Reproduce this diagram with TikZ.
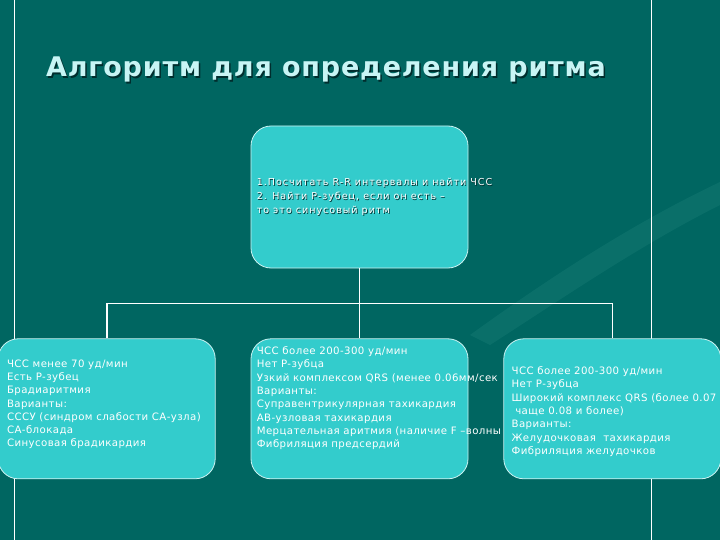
\documentclass[tikz,border=0pt]{standalone}
\usepackage{fontspec}
\setmainfont{DejaVu Sans}
\newfontfamily\boxfont[LetterSpace=4]{DejaVu Sans}
\newfontfamily\topfont[LetterSpace=10]{DejaVu Sans}
\newfontfamily\titlefont[LetterSpace=3]{DejaVu Sans}
\usetikzlibrary{positioning}
\usetikzlibrary{calc}

\definecolor{slide}{RGB}{0,102,97}
\definecolor{boxfill}{RGB}{51,204,204}
\definecolor{titlecol}{RGB}{200,245,245}
\definecolor{shade}{RGB}{0,45,45}
\definecolor{streak}{RGB}{30,130,122}

\newcommand{\shadowline}[2][0.8pt]{\makebox[0pt][l]{\hspace{#1}\raisebox{-#1}{\textcolor{shade}{#2}}}#2}

\begin{document}
\begin{tikzpicture}[x=1pt, y=-1pt,
    block/.style={rectangle, rounded corners=20pt, draw=white!75!boxfill, fill=boxfill, line width=0.8pt, minimum width=217pt, inner sep=0pt},
    blocktext/.style={text=white, align=left, inner sep=0pt, font=\boxfont\fontsize{10.2}{13.3}\selectfont},
    link/.style={draw=white, line width=1.6pt}]

    % slide background
    \fill[slide] (0,0) rectangle (720,540);
    \useasboundingbox (0,0) rectangle (720,540);
    \fill[streak, opacity=0.35] (470,335) .. controls (560,270) and (640,220) .. (720,182)
        -- (720,205) .. controls (640,245) and (560,300) .. (490,345) -- cycle;
    \draw[white, line width=1pt] (14.5,0) -- (14.5,540);
    \draw[white, line width=1pt] (651,0) -- (651,540);

    \node[anchor=base west, inner sep=0pt, text=titlecol, font=\titlefont\fontsize{27}{30}\selectfont\bfseries] (title) at (46,77)
        {\shadowline[1.5pt]{Алгоритм для определения ритма}};

    \node[block, minimum height=142pt] (rhythm) at (359.5,197) {};
    \node[blocktext, font=\topfont\fontsize{9.6}{14}\selectfont, anchor=west] (rhythmtxt) at ([xshift=6pt]rhythm.west)
        {\shadowline{1.Посчитать R-R интервалы и найти ЧСС}\\
         \shadowline{2. Найти P-зубец, если он есть –}\\
         \shadowline{то это синусовый ритм}};

    \node[block, minimum height=140pt, below=70pt of rhythm] (narrow) {};
    \node[block, minimum height=140pt, left=35pt of narrow] (sinus) {};

    \node[blocktext, anchor=north west] (sinustxt) at ([shift={(9pt,-21pt)}]sinus.north west)
        {ЧСС менее 70 уд/мин\\
         Есть P-зубец\\
         Брадиаритмия\\
         Варианты:\\
         СССУ (синдром слабости СА-узла)\\
         СА-блокада\\
         Синусовая брадикардия};
    \node[blocktext, anchor=north west] (narrowtxt) at ([shift={(6pt,-8pt)}]narrow.north west)
        {ЧСС более 200-300 уд/мин\\
         Нет P-зубца\\
         Узкий комплексом QRS (менее 0.06мм/сек\\
         Варианты:\\
         Суправентрикулярная тахикардия\\
         АВ-узловая тахикардия\\
         Мерцательная аритмия (наличие F –волны\\
         Фибриляция предсердий};

    \node[block, minimum height=140pt, right=35pt of narrow] (wide) {};
    \node[blocktext, anchor=north west] (widetxt) at ([shift={(8pt,-28pt)}]wide.north west)
        {ЧСС более 200-300 уд/мин\\
         Нет P-зубца\\
         Широкий комплекс QRS (более 0.07\\
         \ чаще 0.08 и более)\\
         Варианты:\\
         Желудочковая\ \ тахикардия\\
         Фибриляция желудочков};

    % tree links
    \coordinate (fork) at ($(rhythm.south)!0.5!(narrow.north)$);
    \draw[link] (rhythm.south) -- (narrow.north);
    \draw[link] (sinus.north) |- (fork) -| (wide.north);
\end{tikzpicture}
\end{document}
